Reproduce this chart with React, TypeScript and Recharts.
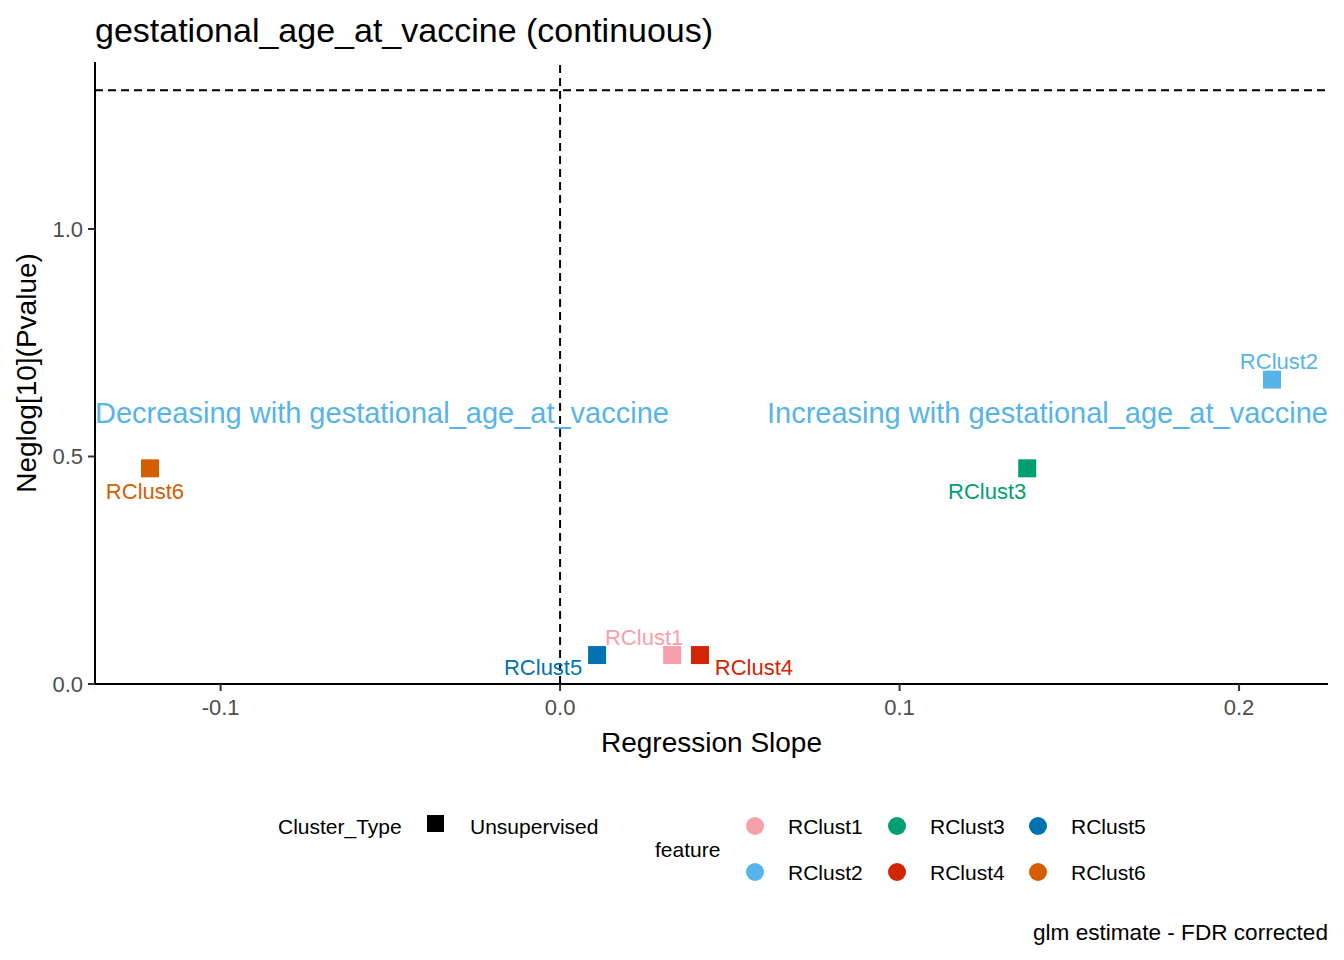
import { ScatterChart, Scatter, XAxis, YAxis, ReferenceLine } from 'recharts'

const FEATURES = ['RClust1', 'RClust2', 'RClust3', 'RClust4', 'RClust5', 'RClust6']
const SLOPES = [0.033, 0.2097, 0.1376, 0.0412, 0.0109, -0.1208]
const NEGLOG_P = [0.0636, 0.669, 0.474, 0.0636, 0.0636, 0.474]
const X_TICKS = [-0.1, 0, 0.1, 0.2]
const Y_TICKS = [0, 0.5, 1.0]
const FDR_LINE = 1.305
const ANNOTATIONS = ['Decreasing with gestational_age_at_vaccine', 'Increasing with gestational_age_at_vaccine']
const ANNOTATION_Y = 0.596

const COLORS = ['#F7A0A9', '#56B4E9', '#009E73', '#D22600', '#0072B2', '#D55E00']
const FONT = "'Liberation Sans', Arial, sans-serif"
const X_DOMAIN: [number, number] = [-0.137, 0.2262]
const Y_DOMAIN: [number, number] = [0, 1.367]

// repel-style label nudges (px, relative to the point)
const LABEL_NUDGE: Record<string, [number, number]> = {
  RClust1: [-28, -18],
  RClust2: [7, -18],
  RClust3: [-40, 23],
  RClust4: [54, 12],
  RClust5: [-54, 12],
  RClust6: [-5, 23],
}

const points = FEATURES.map((f, i) => ({ feature: f, x: SLOPES[i], y: NEGLOG_P[i], color: COLORS[i] }))
const annotations = [
  { text: ANNOTATIONS[0], x: X_DOMAIN[0], y: ANNOTATION_Y, anchor: 'start' },
  { text: ANNOTATIONS[1], x: X_DOMAIN[1], y: ANNOTATION_Y, anchor: 'end' },
]

function PointShape(props: any) {
  const { cx, cy, payload } = props
  const [dx, dy] = LABEL_NUDGE[payload.feature] ?? [0, 0]
  return (
    <g>
      <rect x={cx - 9} y={cy - 9} width={18} height={18} fill={payload.color} />
      <text
        x={cx + dx}
        y={cy + dy}
        textAnchor="middle"
        dominantBaseline="central"
        fontSize={22}
        fontFamily={FONT}
        fill={payload.color}
      >
        {payload.feature}
      </text>
    </g>
  )
}

function AnnotationShape(props: any) {
  const { cx, cy, payload } = props
  return (
    <text
      x={cx}
      y={cy}
      textAnchor={payload.anchor}
      dominantBaseline="central"
      fontSize={29}
      fontFamily={FONT}
      fill="#56B4E9"
    >
      {payload.text}
    </text>
  )
}

function FeatureLegend() {
  const colX = [755, 897, 1038]
  const rowY = [826, 872]
  return (
    <svg width={1344} height={140} style={{ position: 'absolute', left: 0, top: 790 }} fontFamily={FONT}>
      <g transform="translate(0,-790)">
        <text x={278} y={826} fontSize={21} dominantBaseline="central">Cluster_Type</text>
        <rect x={427} y={815} width={17} height={17} fill="#000" />
        <text x={470} y={826} fontSize={21} dominantBaseline="central">Unsupervised</text>
        <text x={655} y={849} fontSize={21} dominantBaseline="central">feature</text>
        {FEATURES.map((f, i) => {
          const col = Math.floor(i / 2)
          const row = i % 2
          return (
            <g key={f}>
              <circle cx={colX[col]} cy={rowY[row]} r={9} fill={COLORS[i]} />
              <text x={colX[col] + 33} y={rowY[row]} fontSize={21} dominantBaseline="central">{f}</text>
            </g>
          )
        })}
      </g>
    </svg>
  )
}

export default function App() {
  return (
    <div style={{ position: 'absolute', left: 0, top: 0, width: 1344, height: 960, background: '#fff', fontFamily: FONT }}>
      <div style={{ position: 'absolute', left: 95, top: 10, fontSize: 34, lineHeight: '40px', color: '#000' }}>
        gestational_age_at_vaccine (continuous)
      </div>
      <ScatterChart width={1344} height={960} margin={{ top: 62, right: 16, bottom: 196, left: 0 }}>
        <XAxis
          type="number"
          dataKey="x"
          domain={X_DOMAIN}
          ticks={X_TICKS}
          allowDataOverflow
          tickFormatter={(v: number) => v.toFixed(1)}
          height={80}
          tickSize={7}
          tickMargin={8}
          axisLine={{ stroke: '#000', strokeWidth: 2 }}
          tickLine={{ stroke: '#333', strokeWidth: 2 }}
          tick={{ fontSize: 22, fill: '#4D4D4D', fontFamily: FONT }}
          label={{ value: 'Regression Slope', position: 'insideBottom', offset: 12, fontSize: 28, fill: '#000', fontFamily: FONT }}
        />
        <YAxis
          type="number"
          dataKey="y"
          domain={Y_DOMAIN}
          ticks={Y_TICKS}
          allowDataOverflow
          tickFormatter={(v: number) => v.toFixed(1)}
          width={95}
          tickSize={7}
          tickMargin={5}
          axisLine={{ stroke: '#000', strokeWidth: 2 }}
          tickLine={{ stroke: '#333', strokeWidth: 2 }}
          tick={{ fontSize: 22, fill: '#4D4D4D', fontFamily: FONT }}
          label={{ value: 'Neglog[10](Pvalue)', angle: -90, position: 'insideLeft', offset: 26, style: { textAnchor: 'middle' }, fontSize: 28, fill: '#000', fontFamily: FONT }}
        />
        <ReferenceLine y={FDR_LINE} stroke="#000" strokeWidth={2} strokeDasharray="8 5" />
        <ReferenceLine x={0} stroke="#000" strokeWidth={2} strokeDasharray="8 5" />
        <Scatter data={annotations} shape={AnnotationShape} isAnimationActive={false} />
        <Scatter data={points} shape={PointShape} isAnimationActive={false} />
      </ScatterChart>
      <FeatureLegend />
      <div style={{ position: 'absolute', right: 16, top: 920, fontSize: 22.6, lineHeight: '26px', color: '#000' }}>
        glm estimate - FDR corrected
      </div>
    </div>
  )
}
